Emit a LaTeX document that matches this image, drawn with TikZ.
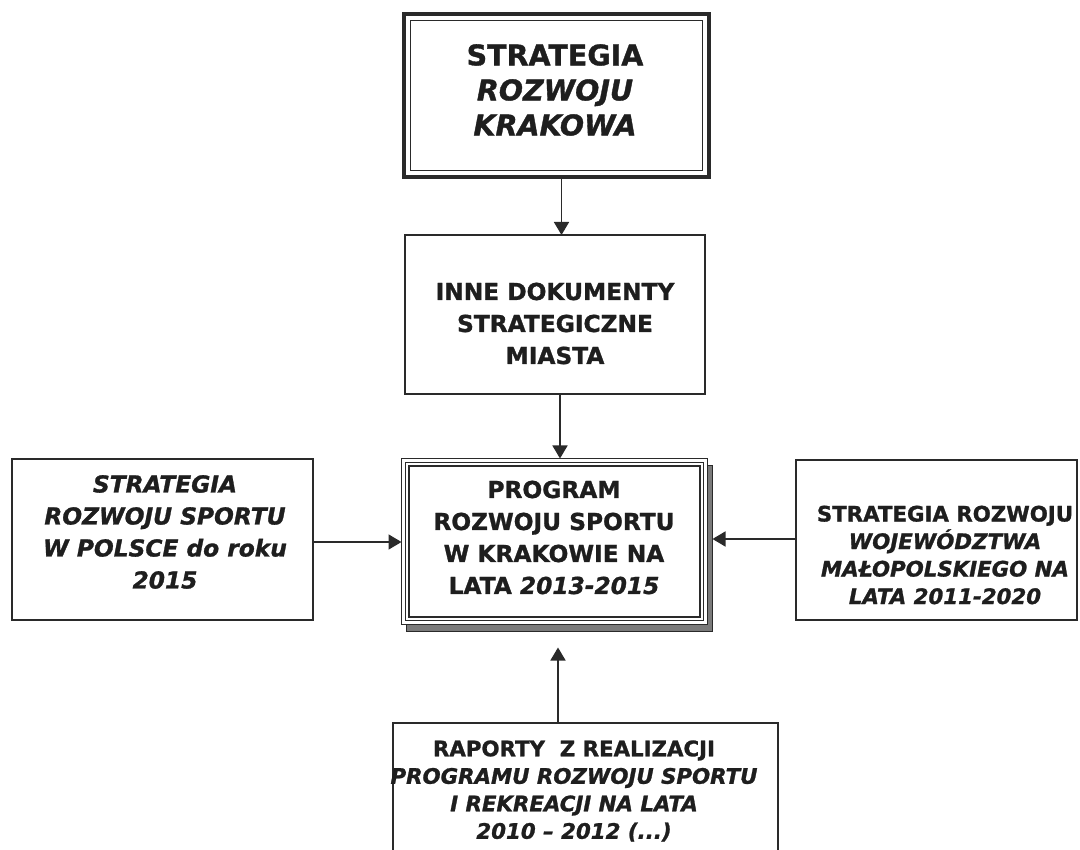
\documentclass[tikz,border=0pt]{standalone}
\usepackage{fontspec}
\setmainfont{DejaVu Sans}[BoldFeatures={FakeBold=1.2}, BoldItalicFeatures={FakeBold=1.2}]
\usetikzlibrary{arrows.meta,shadows}
\definecolor{lc}{HTML}{2A2A2A}
\definecolor{txt}{HTML}{1E1E1E}
\definecolor{shd}{HTML}{7A7A7A}
\begin{document}
\begin{tikzpicture}[x=1pt,y=-1pt,
  box/.style={draw=lc, line width=1.5pt, fill=white, inner sep=0pt, outer sep=0pt},
  lbl/.style={align=center, text=txt, inner sep=0pt, font=\bfseries},
  arr/.style={draw=lc, line width=1.6pt, -{Triangle[width=15pt,length=13pt]}},
  bigf/.style={font=\fontsize{28.5}{35}\selectfont\bfseries},
  midf/.style={font=\fontsize{23.3}{32}\selectfont\bfseries},
  smlf/.style={font=\fontsize{21.3}{27.5}\selectfont\bfseries}]
\path[use as bounding box] (0,0) rectangle (1080,850);
\clip (0,0) rectangle (1080,850);
\fill[white] (0,0) rectangle (1080,850);

% top box
\node[box, line width=4.5pt, minimum width=305pt, minimum height=163pt] (top) at (556.5,95.5) {};
\draw[lc, line width=1.2pt] ([shift={(6.5,6.5)}]top.north west) rectangle ([shift={(-6.5,-6.5)}]top.south east);
\node[lbl, bigf] (toptxt) at (555,90) {STRATEGIA\\ \itshape ROZWOJU\\ \itshape KRAKOWA};

% inne
\node[box, minimum width=300pt, minimum height=159pt] (inne) at (555,314.5) {};
\node[lbl, midf] (innetxt) at (555,323.5) {INNE DOKUMENTY\\ STRATEGICZNE\\ MIASTA};

% center program box
\node[box, line width=1.8pt, minimum width=306pt, minimum height=166pt,
  general shadow={fill=shd, draw=lc, line width=1pt, shadow xshift=5pt, shadow yshift=-7pt}] (prog) at (554.5,541.5) {};
\draw[lc, line width=1.2pt] ([shift={(4,4)}]prog.north west) rectangle ([shift={(-4,-4)}]prog.south east);
\draw[lc, line width=1.8pt] ([shift={(7.5,7.5)}]prog.north west) rectangle ([shift={(-7.5,-7.5)}]prog.south east);
\node[lbl, midf] (progtxt) at (554,537.5) {PROGRAM\\ ROZWOJU SPORTU\\ W KRAKOWIE NA\\ LATA \textit{2013-2015}};

% left box
\node[box, minimum width=301pt, minimum height=161pt] (left) at (162.5,539.5) {};
\node[lbl, midf] (lefttxt) at (165,532) {\itshape STRATEGIA\\ \itshape ROZWOJU SPORTU\\ \itshape W POLSCE do roku\\ \itshape 2015};

% right box
\node[box, minimum width=281pt, minimum height=160pt] (right) at (936.5,540) {};
\node[lbl, smlf] (righttxt) at (945,555) {STRATEGIA ROZWOJU\\ \itshape WOJEWÓDZTWA\\ \itshape MAŁOPOLSKIEGO NA\\ \itshape LATA 2011-2020};

% bottom box (cut by page edge)
\node[box, minimum width=385pt, minimum height=138pt] (bot) at (585.5,792) {};
\node[lbl, smlf] (bottxt) at (574,791) {RAPORTY\ \ Z REALIZACJI\\ \itshape PROGRAMU ROZWOJU SPORTU\\ \itshape I REKREACJI NA LATA\\ \itshape 2010 – 2012 (...)};

% connectors
\draw[arr] ([xshift=5pt]top.south) -- ([xshift=5pt]top.south |- inne.north);
\draw[arr] ([xshift=5pt]inne.south) -- ([xshift=5pt]inne.south |- prog.north);
\draw[arr] ([yshift=-2.5pt]left.east) -- ([yshift=-2.5pt]left.east -| prog.west);
\draw[arr] ([yshift=1pt]right.west) -- ([xshift=5pt, yshift=1pt]right.west -| prog.east);
\draw[arr] ([xshift=3.5pt]prog.south |- bot.north) -- ([xshift=3.5pt, yshift=-23pt]prog.south);
\end{tikzpicture}
\end{document}
